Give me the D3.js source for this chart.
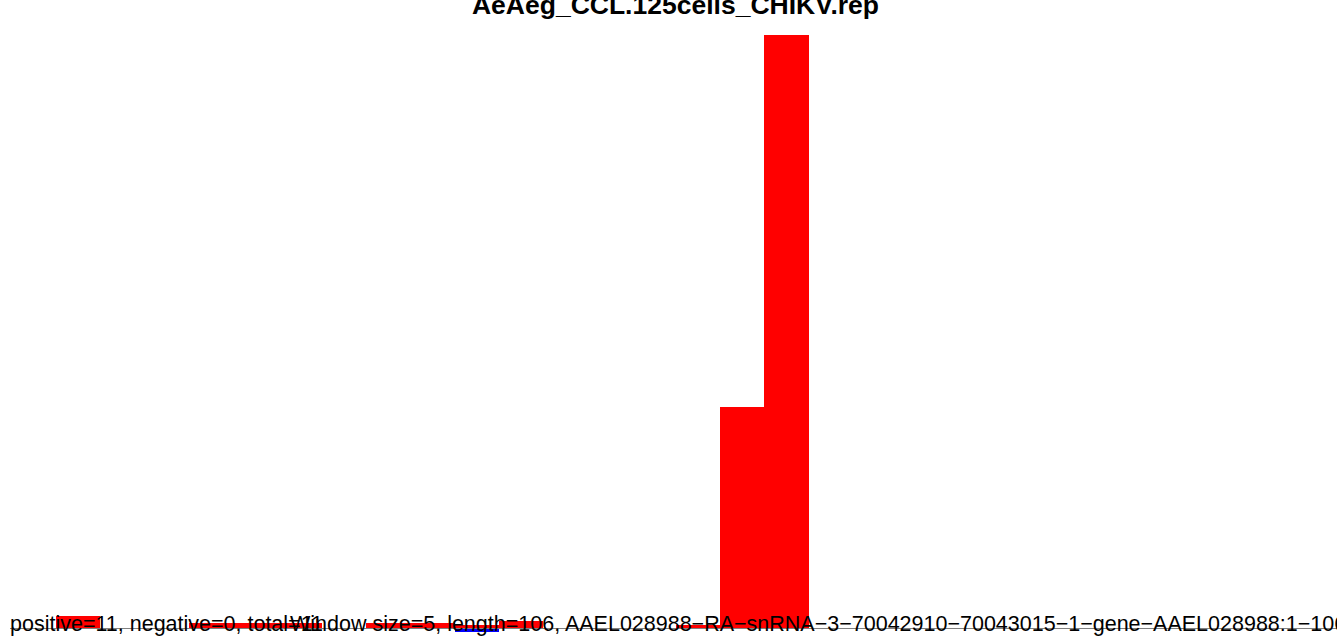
<!DOCTYPE html>
<html>
<head>
<meta charset="utf-8">
<script src="https://cdn.jsdelivr.net/npm/d3@7"></script>
<style>
  html, body { margin: 0; padding: 0; background: #fff; }
  svg { display: block; }
</style>
</head>
<body>
<svg id="chart" width="1337" height="637"></svg>
<script>
// Per-window read coverage along the transcript (window size 5, 106 nt)
const windowIndex = d3.range(22);
const positiveCounts = [2.1, 0, 0, 0.9, 0.9, 0.9, 0, 0.93, 0.93, 0.67, 1.3, 0, 0, 0, 0.6, 37.3, 100, 0, 0, 0, 0, 0];
const negativeCounts = [0, 0, 0, 0, 0, 0, 0, 0, 0, -0.67, 0, 0, 0, 0, 0, 0, 0, 0, 0, 0, 0, 0];

const titleText = "AeAeg_CCL.125cells_CHIKV.rep";
const summaryText = "positive=11, negative=0, total=11";
const infoText = "Window size=5, length=106, AAEL028988\u2212RA\u2212snRNA\u22123\u221270042910\u221270043015\u22121\u2212gene\u2212AAEL028988:1\u2212106";

const W = 1337, H = 637;
const svg = d3.select("#chart");

const x = d3.scaleLinear().domain([0, 22]).range([56, 56 + 22 * 44.28]);
const y = d3.scaleLinear().domain([0, 100]).range([628.5, 35]);

// positive strand bars
svg.append("g").attr("shape-rendering", "crispEdges").selectAll("rect")
  .data(windowIndex.filter(i => positiveCounts[i] > 0))
  .join("rect")
  .attr("x", i => x(i))
  .attr("width", i => x(i + 1) - x(i))
  .attr("y", i => y(positiveCounts[i]))
  .attr("height", i => y(0) - y(positiveCounts[i]))
  .attr("fill", "#ff0000");

// negative strand bars
svg.append("g").attr("shape-rendering", "crispEdges").selectAll("rect")
  .data(windowIndex.filter(i => negativeCounts[i] < 0))
  .join("rect")
  .attr("x", i => x(i))
  .attr("width", i => x(i + 1) - x(i))
  .attr("y", y(0))
  .attr("height", i => y(negativeCounts[i]) - y(0))
  .attr("fill", "#0000ff");

// zero line
svg.append("line")
  .attr("x1", 10).attr("x2", W)
  .attr("y1", y(0)).attr("y2", y(0))
  .attr("stroke", "#808080").attr("stroke-width", 1);

// title
svg.append("text")
  .attr("x", 675.5).attr("y", 14)
  .attr("text-anchor", "middle")
  .attr("font-family", "Liberation Sans, Arial, sans-serif")
  .attr("font-weight", "bold")
  .attr("font-size", 26.5)
  .attr("fill", "#000")
  .text(titleText);

// bottom annotations
const textStyle = sel => sel
  .attr("font-family", "Liberation Sans, Arial, sans-serif")
  .attr("font-size", 21.5)
  .attr("fill", "#000");

svg.append("text").attr("x", 10).attr("y", 631).call(textStyle).text(summaryText);
svg.append("text").attr("x", 290).attr("y", 631).call(textStyle).text(infoText);
</script>
</body>
</html>
